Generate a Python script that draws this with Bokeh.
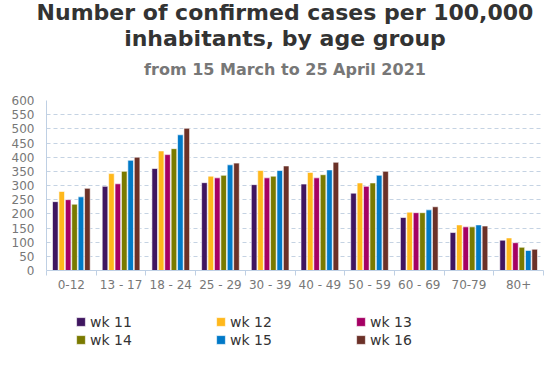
from bokeh.plotting import figure
from bokeh.layouts import column
from bokeh.models import Range1d, FixedTicker, Legend, LegendItem, ColumnDataSource, Div
from bokeh.transform import dodge
from bokeh.embed import file_html
from bokeh.resources import INLINE

title_line1 = "Number of confirmed cases per 100,000"
title_line2 = "inhabitants, by age group"
subtitle = "from 15 March to 25 April 2021"
age_groups = ["0-12", "13 - 17", "18 - 24", "25 - 29", "30 - 39",
              "40 - 49", "50 - 59", "60 - 69", "70-79", "80+"]
weeks = ["wk 11", "wk 12", "wk 13", "wk 14", "wk 15", "wk 16"]
wk11 = [243, 297, 360, 310, 303, 305, 273, 187, 134, 107]
wk12 = [279, 342, 422, 333, 353, 346, 309, 206, 161, 115]
wk13 = [250, 306, 409, 327, 327, 327, 297, 204, 154, 98]
wk14 = [234, 350, 430, 336, 333, 338, 309, 204, 154, 82]
wk15 = [260, 389, 479, 373, 353, 355, 336, 214, 161, 71]
wk16 = [290, 400, 502, 379, 369, 382, 350, 225, 157, 75]
y_ticks = list(range(0, 601, 50))
colors = ["#3f1660", "#ffb81c", "#a50064", "#7a7a00", "#0079c8", "#6b3128"]

series = [wk11, wk12, wk13, wk14, wk15, wk16]
xs = list(range(len(age_groups)))
data = {"x": xs}
for w, s in zip(weeks, series):
    data[w] = s
source = ColumnDataSource(data)

FONT = "DejaVu Sans"
AXIS_COL = "#bfd0e4"
W = 544

# ---- header (titles) ----
head_html = (
    '<div style="margin:0;padding:0 0 0 8px;width:536px;text-align:center;position:relative;left:13px;'
    'font-family:\'DejaVu Sans\';font-weight:bold;font-size:22px;line-height:26px;'
    'color:#333333;white-space:nowrap;">' + title_line1 + '<br>' + title_line2 + '</div>'
    '<div style="margin:8px 0 0 0;padding:0 0 0 8px;width:536px;text-align:center;position:relative;left:13px;'
    'font-family:\'DejaVu Sans\';font-weight:bold;font-size:16px;line-height:20px;'
    'color:#777777;white-space:nowrap;">' + subtitle + '</div>'
)
header = Div(text=head_html, width=W, height=92, margin=0)

# ---- main chart ----
p = figure(frame_width=497, frame_height=170, title=None, toolbar_location=None,
           output_backend="svg", x_range=Range1d(-0.5, len(age_groups) - 0.5),
           y_range=Range1d(0, 600), min_border_left=46, min_border_right=1,
           min_border_top=8, min_border_bottom=34)
p.outline_line_color = None

step = 0.129
bw = 0.113
for i, (w, c) in enumerate(zip(weeks, colors)):
    off = (i - 2.5) * step
    p.vbar(x=dodge("x", off, range=p.x_range), top=w, width=bw, source=source,
           fill_color=c, line_color="white", line_width=0.6)

p.xaxis.ticker = FixedTicker(ticks=xs, minor_ticks=[i - 0.5 for i in range(len(age_groups) + 1)])
p.xaxis.major_label_overrides = {i: lab for i, lab in enumerate(age_groups)}
p.xaxis.major_tick_line_color = None
p.xaxis.major_tick_out = 0
p.xaxis.major_tick_in = 0
p.xaxis.minor_tick_line_color = AXIS_COL
p.xaxis.minor_tick_out = 5
p.xaxis.minor_tick_in = 0
p.xaxis.axis_line_color = AXIS_COL
p.xaxis.major_label_text_font = FONT
p.xaxis.major_label_text_font_size = "12px"
p.xaxis.major_label_text_color = "#777777"
p.xaxis.major_label_standoff = 2

p.yaxis.ticker = FixedTicker(ticks=y_ticks)
p.yaxis.major_tick_line_color = None
p.yaxis.major_tick_out = 0
p.yaxis.major_tick_in = 0
p.yaxis.minor_tick_line_color = None
p.yaxis.axis_line_color = AXIS_COL
p.yaxis.major_label_text_font = FONT
p.yaxis.major_label_text_font_size = "12px"
p.yaxis.major_label_text_color = "#777777"
p.yaxis.major_label_standoff = 12

p.xgrid.grid_line_color = None
p.ygrid.grid_line_color = "#c5d3e3"
p.ygrid.grid_line_dash = "4 3"
p.ygrid.ticker = FixedTicker(ticks=y_ticks[1:])

# ---- legend strip (its bars lie outside its view; only the legend shows) ----
p2 = figure(frame_width=497, frame_height=53, toolbar_location=None, output_backend="svg",
            x_range=Range1d(-0.5, len(age_groups) - 0.5), y_range=Range1d(-2000, -1000), title=None,
            x_axis_location=None, y_axis_location=None,
            min_border_left=46, min_border_right=1, min_border_top=0, min_border_bottom=0)
p2.outline_line_color = None
p2.grid.grid_line_color = None
leg_renderers = []
for i, (w, c) in enumerate(zip(weeks, colors)):
    off = (i - 2.5) * step
    leg_renderers.append(p2.vbar(x=dodge("x", off, range=p2.x_range), top=w, width=0.0001,
                                 source=source, fill_color=c, line_color="white", line_width=0.6))

legend = Legend(items=[LegendItem(label=w, renderers=[r]) for w, r in zip(weeks, leg_renderers)],
                orientation="horizontal", ncols=3, location=(29, 9),
                glyph_width=11, glyph_height=11, label_standoff=4, label_width=124,
                label_height=17, spacing=1, padding=0, margin=0, border_line_color=None,
                background_fill_alpha=0, label_text_font=FONT,
                label_text_font_size="14px", label_text_color="#333333")
p2.add_layout(legend, "center")

layout = column(header, p, p2, spacing=0)
open("out.html", "w").write(file_html(layout, INLINE))
